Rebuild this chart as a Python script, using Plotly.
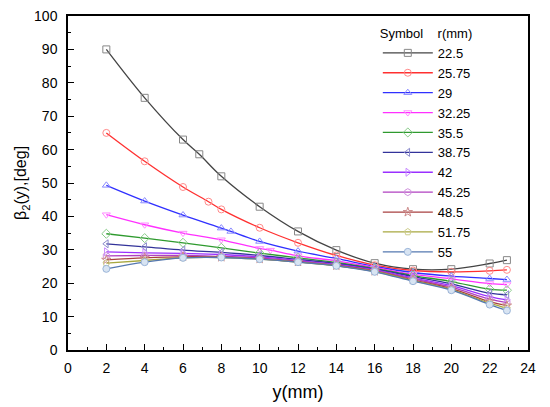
import plotly.graph_objects as go

# y positions (mm) shared by most series
y_pos = [2, 4, 6, 8, 10, 12, 14, 16, 18, 20, 22, 22.9]

radii = ["22.5", "25.75", "29", "32.25", "35.5", "38.75",
         "42", "45.25", "48.5", "51.75", "55"]

beta_22_5 = [90.0, 75.5, 63.0, 52.0, 42.9, 35.5, 29.9, 26.0, 24.2, 24.2, 25.9, 26.9]
beta_25_75 = [65.0, 56.5, 48.8, 42.1, 36.6, 32.1, 28.3, 25.4, 23.8, 23.4, 23.7, 24.0]
beta_29 = [49.3, 44.6, 40.4, 36.5, 32.5, 29.6, 27.4, 25.0, 23.2, 22.1, 21.4, 21.1]
beta_32_25 = [40.5, 37.5, 35.0, 33.0, 30.4, 28.2, 26.7, 24.7, 22.7, 21.3, 19.9, 19.6]
beta_35_5 = [34.8, 33.5, 32.1, 30.6, 29.0, 27.6, 26.2, 24.4, 22.3, 20.5, 18.2, 17.9]
beta_38_75 = [31.8, 30.9, 29.9, 29.2, 28.3, 27.1, 25.9, 24.2, 22.0, 19.8, 17.0, 16.5]
beta_42 = [29.4, 29.1, 28.9, 28.6, 27.9, 26.8, 25.6, 24.0, 21.6, 19.3, 16.0, 15.0]
beta_45_25 = [28.2, 28.3, 28.3, 28.0, 27.6, 26.6, 25.4, 23.8, 21.3, 18.8, 15.2, 14.2]
beta_48_5 = [27.0, 27.6, 27.9, 27.8, 27.3, 26.4, 25.3, 23.6, 21.0, 18.4, 14.5, 13.3]
beta_51_75 = [26.0, 26.8, 27.6, 27.7, 27.2, 26.3, 25.2, 23.5, 20.8, 18.1, 14.0, 12.5]
beta_55 = [24.3, 26.3, 27.6, 27.7, 27.2, 26.3, 25.2, 23.4, 20.6, 17.9, 13.6, 11.8]

# extra measured points on the first four curves
extra_y = {"22.5": 6.85, "25.75": 7.33, "29": 8.5, "32.25": 10.56}
extra_beta = {"22.5": 58.6, "25.75": 44.4, "29": 35.5, "32.25": 29.9}

series = [beta_22_5, beta_25_75, beta_29, beta_32_25, beta_35_5, beta_38_75,
          beta_42, beta_45_25, beta_48_5, beta_51_75, beta_55]

line_colors = ["#444444", "#ff3030", "#3030ff", "#ff30ff", "#2e9a2e", "#33339a",
               "#9a30ff", "#b040c0", "#a84040", "#a8a840", "#5578b0"]
marker_colors = ["#888888", "#ff8a8a", "#8a8aff", "#ff8aff", "#8acc8a", "#8a8acc",
                 "#c88aff", "#d090dd", "#cc8a8a", "#cccc8a", "#9ab4d8"]
symbols = ["square-open", "circle-open", "triangle-up-open", "triangle-down-open",
           "diamond-open", "triangle-left-open", "triangle-right-open",
           "hexagon-open", "star-open", "pentagon-open", "circle"]

fig = go.Figure()

for i, r in enumerate(radii):
    xs = list(y_pos)
    ys = list(series[i])
    if r in extra_y:
        # put the extra point in order
        k = sum(1 for v in xs if v < extra_y[r])
        xs.insert(k, extra_y[r])
        ys.insert(k, extra_beta[r])

    if symbols[i] == "circle":
        marker = dict(symbol="circle", size=7, color="#d8e4f2",
                      line=dict(color=marker_colors[i], width=1))
    else:
        marker = dict(symbol=symbols[i], size=7, color=marker_colors[i],
                      line=dict(width=1))

    fig.add_trace(
        go.Scatter(
            x=xs,
            y=ys,
            mode="lines+markers",
            name=r,
            line=dict(color=line_colors[i], width=1.3, shape="spline"),
            marker=marker
        )
    )

axis_font = dict(family="Liberation Sans, Arial", size=14, color="black")

# page body has an 8px margin, so the margins are trimmed by that much
fig.update_layout(
    width=550,
    height=407,
    plot_bgcolor="white",
    paper_bgcolor="white",
    margin=dict(l=60, r=30, t=8, b=65),
    font=axis_font,
    legend=dict(
        title=dict(text="Symbol\u00a0\u00a0\u00a0\u00a0r(mm)", font=dict(size=13)),
        x=0.6735,
        y=0.985,
        xanchor="left",
        yanchor="top",
        bgcolor="rgba(0,0,0,0)",
        font=dict(size=13),
        tracegroupgap=0,
        itemwidth=50
    ),
    xaxis=dict(
        title=dict(text="y(mm)", font=dict(size=18), standoff=11),
        automargin=False,
        range=[0, 24],
        tickmode="linear",
        tick0=0,
        dtick=2,
        ticks="inside",
        ticklen=6,
        tickwidth=1.2,
        tickcolor="black",
        ticklabelstandoff=4,
        minor=dict(dtick=1, ticks="inside", ticklen=3, tickcolor="black"),
        showline=True,
        linecolor="black",
        linewidth=1.5,
        mirror=True,
        showgrid=False,
        zeroline=False
    ),
    yaxis=dict(
        title=dict(text="β<sub>2</sub>(y),[deg]", font=dict(size=16), standoff=3),
        automargin=False,
        range=[0, 100],
        tickmode="linear",
        tick0=0,
        dtick=10,
        ticks="inside",
        ticklen=6,
        tickwidth=1.2,
        tickcolor="black",
        ticklabelstandoff=6,
        ticklabeloverflow="allow",
        minor=dict(dtick=5, ticks="inside", ticklen=3, tickcolor="black"),
        showline=True,
        linecolor="black",
        linewidth=1.5,
        mirror=True,
        showgrid=False,
        zeroline=False
    )
)

fig.write_html("out.html")
